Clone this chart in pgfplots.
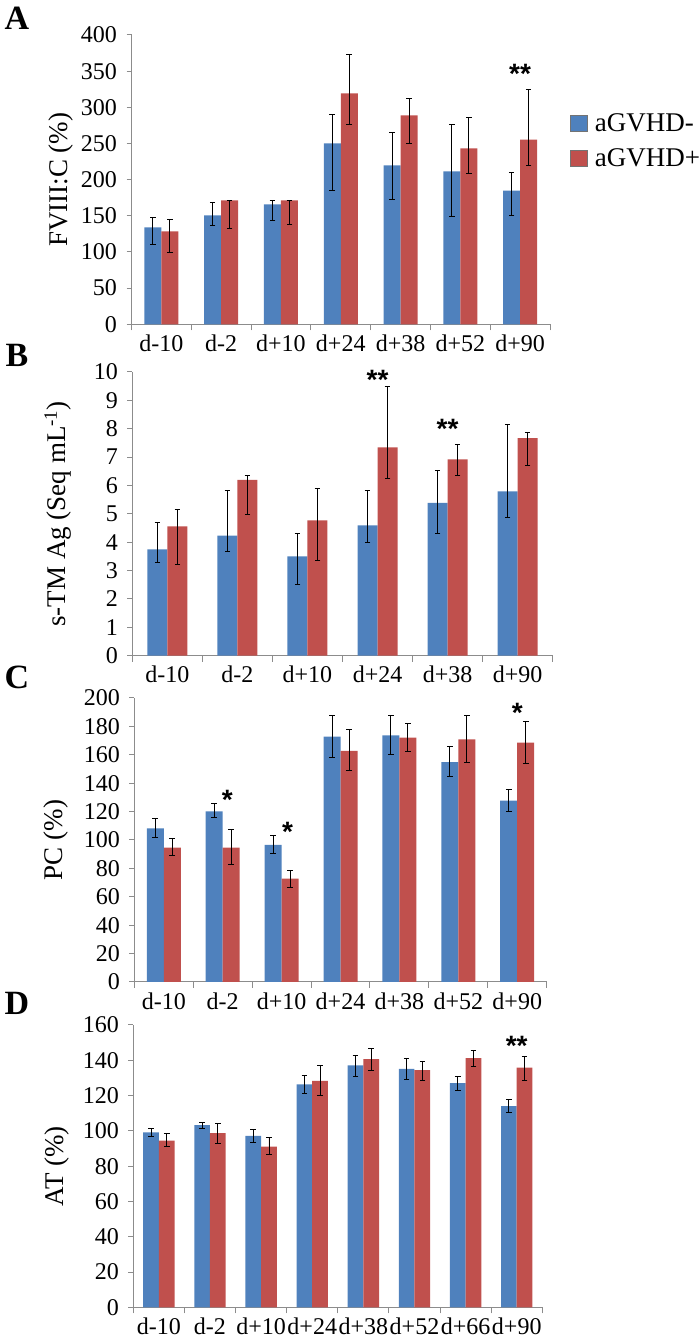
\documentclass[border=0pt]{standalone}
\usepackage{fontspec}
\setmainfont{Liberation Serif}
\newfontfamily\starfont{Liberation Sans}
\usepackage{pgfplots}
\usepackage{pgfplotstable}
\pgfplotsset{compat=1.18}
\definecolor{barblue}{HTML}{4F81BD}
\definecolor{barred}{HTML}{C0504D}
\definecolor{axgray}{HTML}{8C8C8C}

\pgfplotstableread{
x b bp bm r rp rm
0 134.0 13.0 24.0 128.6 16.0 29.0
1 150.7 18.0 14.3 171.4 0.0 39.6
2 165.9 5.5 22.6 171.4 0.0 33.4
3 250.2 40.1 65.9 319.4 53.4 43.8
4 219.8 45.2 47.4 288.9 23.5 38.7
5 211.5 65.0 63.1 243.3 42.0 35.5
6 184.8 24.9 35.0 255.3 68.7 36.4
}\dataA

\pgfplotstableread{
x b bp bm r rp rm
0 3.75 0.96 0.48 4.56 0.59 1.33
1 4.23 1.60 0.54 6.20 0.16 1.24
2 3.50 0.80 0.99 4.77 1.13 1.41
3 4.59 1.24 0.59 7.34 2.14 1.11
4 5.39 1.14 1.10 6.92 0.54 0.57
5 5.79 2.35 0.91 7.67 0.20 0.98
}\dataB

\pgfplotstableread{
x b bp bm r rp rm
0 108.2 6.8 6.3 94.6 6.1 5.4
1 120.2 5.6 4.5 94.6 12.7 12.0
2 96.5 6.8 6.1 72.8 5.6 6.1
3 172.8 15.2 14.8 162.7 15.0 13.7
4 173.7 14.3 13.8 172.1 9.8 9.7
5 154.9 10.8 10.3 170.9 17.1 16.2
6 127.7 7.7 7.7 168.5 15.1 14.7
}\dataC

\pgfplotstableread{
x b bp bm r rp rm
0 99.2 2.3 2.6 94.5 3.8 3.6
1 103.2 1.7 2.1 98.7 5.6 6.1
2 97.2 3.7 3.8 91.1 5.1 4.5
3 126.3 5.1 4.9 128.4 8.5 8.6
4 137.1 5.6 6.3 140.6 5.9 6.6
5 135.2 5.8 5.9 134.4 5.1 5.7
6 127.0 3.8 4.3 141.2 4.5 4.5
7 114.0 4.0 3.8 135.9 6.3 7.2
}\dataD

\tikzset{signif/.style={font=\starfont\bfseries\fontsize{28}{28}\selectfont, inner sep=0pt}}

\pgfplotsset{
  panel/.style={
    scale only axis,
    anchor=south west,
    axis x line*=bottom,
    axis y line*=left,
    axis line style={axgray, line width=1pt},
    ymin=0,
    ybar=0pt,
    tick align=outside,
    major tick length=5pt,
    minor tick length=6pt,
    tick style={axgray, line width=1pt},
    major x tick style={draw=none},
    minor x tick style={axgray, line width=1pt},
    tick label style={font=\fontsize{24}{28}\selectfont},
    yticklabel style={xshift=-6pt},
    xticklabel style={yshift=-2pt},
    /pgf/number format/assume math mode=true,
    ylabel style={font=\fontsize{27}{30}\selectfont, anchor=center},
    clip=false,
    xmin=-0.5,
    error bars/y dir=both,
    error bars/y explicit,
    error bars/error bar style={draw=black, solid, line width=0.9pt},
    error bars/error mark options={draw=black, solid, line width=1pt, mark size=2.8pt, rotate=90},
  },
  boxlegend/.style={legend image code/.code={\draw[##1, draw=black!55, line width=0.6pt] (0pt,-8pt) rectangle (17pt,8pt);}},
}

\begin{document}
\begin{tikzpicture}
\useasboundingbox (0,0) rectangle (699pt,1343pt);

% Panel A
\begin{axis}[panel,
  at={(131.5pt,1018.7pt)}, width=418.5pt, height=289.3pt,
  xmax=6.5, ymax=400, ytick={0,50,...,400},
  bar width=17pt,
  xtick={0,...,6}, xticklabels={d-10,d-2,d+10,d+24,d+38,d+52,d+90},
  minor xtick={-0.5,0.5,...,6.5},
  ylabel={FVIII:C (\%)},
  ylabel style={at={(axis description cs:-0.1685,0.5)}},
  legend style={at={(axis description cs:1.048,0.728)}, anchor=north west, draw=none, fill=none,
    font=\fontsize{27}{30}\selectfont, row sep=15pt, column sep=7pt, inner sep=0pt, nodes={inner sep=0pt}},
  legend cell align=left,
]
\addplot[fill=barblue, draw=none, boxlegend] table[x=x, y=b, y error plus=bp, y error minus=bm]{\dataA};
\addplot[fill=barred, draw=none, boxlegend] table[x=x, y=r, y error plus=rp, y error minus=rm]{\dataA};
\legend{aGVHD-, aGVHD+}
\node[signif] at (axis cs:6,346) {**};
\end{axis}

% Panel B
\begin{axis}[panel,
  at={(132.3pt,687.3pt)}, width=420.4pt, height=283.7pt,
  xmax=5.5, ymax=10, ytick={0,1,...,10},
  bar width=20pt,
  xtick={0,...,5}, xticklabels={d-10,d-2,d+10,d+24,d+38,d+90},
  minor xtick={-0.5,0.5,...,5.5},
  ylabel={s-TM Ag (Seq mL\textsuperscript{-1})},
  ylabel style={at={(axis description cs:-0.1767,0.5)}},
]
\addplot[fill=barblue, draw=none] table[x=x, y=b, y error plus=bp, y error minus=bm]{\dataB};
\addplot[fill=barred, draw=none] table[x=x, y=r, y error plus=rp, y error minus=rm]{\dataB};
\node[signif] at (axis cs:3,9.71) {**};
\node[signif] at (axis cs:4,8.0) {**};
\end{axis}

% Panel C
\begin{axis}[panel,
  at={(134.3pt,361pt)}, width=412.4pt, height=284pt,
  xmax=6.5, ymax=200, ytick={0,20,...,200},
  bar width=17pt,
  xtick={0,...,6}, xticklabels={d-10,d-2,d+10,d+24,d+38,d+52,d+90},
  minor xtick={-0.5,0.5,...,6.5},
  ylabel={PC (\%)},
  ylabel style={at={(axis description cs:-0.1899,0.5)}},
]
\addplot[fill=barblue, draw=none] table[x=x, y=b, y error plus=bp, y error minus=bm]{\dataC};
\addplot[fill=barred, draw=none] table[x=x, y=r, y error plus=rp, y error minus=rm]{\dataC};
\node[signif] at (axis cs:1.08,128.4) {*};
\node[signif] at (axis cs:2.10,105.6) {*};
\node[signif] at (axis cs:6,189.4) {*};
\end{axis}

% Panel D
\begin{axis}[panel,
  at={(133.3pt,35.7pt)}, width=409pt, height=282.3pt,
  xmax=7.5, ymax=160, ytick={0,20,...,160},
  bar width=15.7pt,
  xtick={0,...,7}, xticklabels={d-10,d-2,d+10,d+24,d+38,d+52,d+66,d+90},
  minor xtick={-0.5,0.5,...,7.5},
  ylabel={AT (\%)},
  ylabel style={at={(axis description cs:-0.1866,0.5)}},
]
\addplot[fill=barblue, draw=none] table[x=x, y=b, y error plus=bp, y error minus=bm]{\dataD};
\addplot[fill=barred, draw=none] table[x=x, y=r, y error plus=rp, y error minus=rm]{\dataD};
\node[signif] at (axis cs:7,148.4) {**};
\end{axis}

\node[font=\bfseries\fontsize{34}{34}\selectfont] at (17pt,1325pt) {A};
\node[font=\bfseries\fontsize{34}{34}\selectfont] at (17pt,988pt) {B};
\node[font=\bfseries\fontsize{34}{34}\selectfont] at (17pt,666pt) {C};
\node[font=\bfseries\fontsize{34}{34}\selectfont] at (17pt,340pt) {D};
\end{tikzpicture}
\end{document}
